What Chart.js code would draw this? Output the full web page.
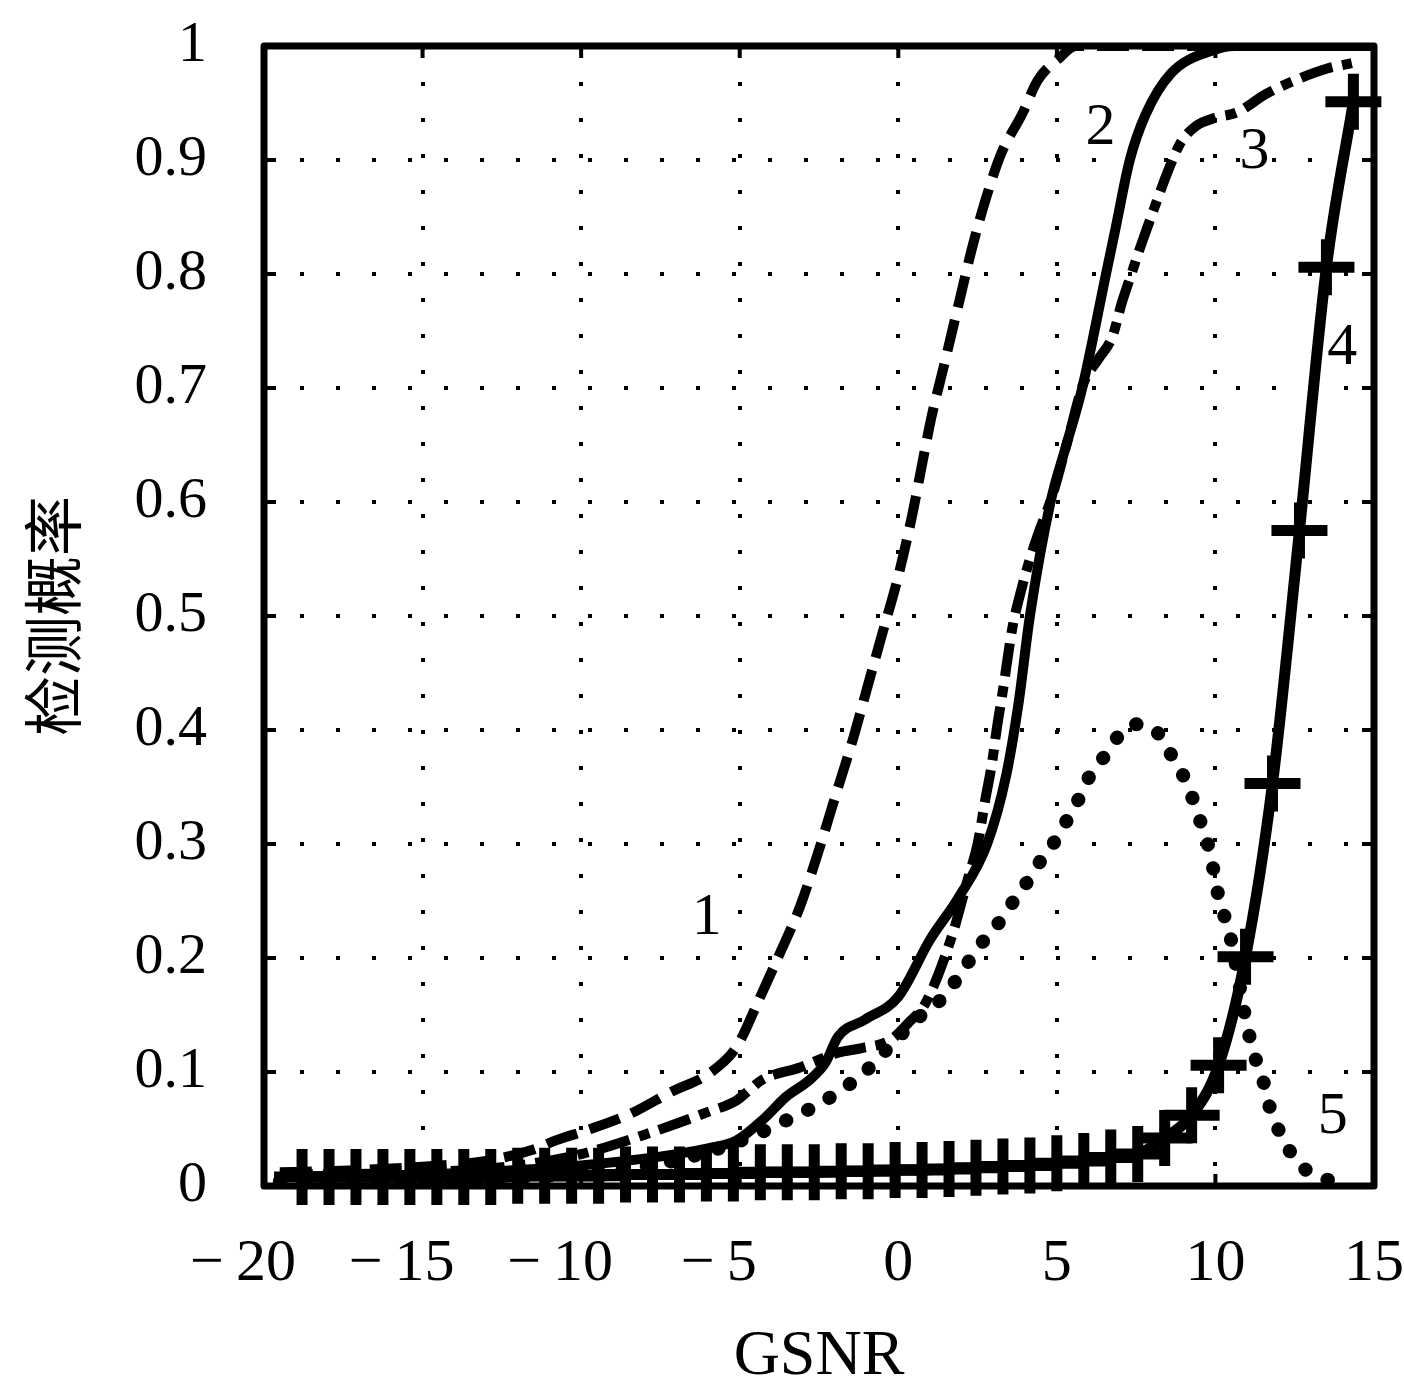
<!DOCTYPE html>
<html>
<head>
<meta charset="utf-8">
<script src="https://cdn.jsdelivr.net/npm/chart.js@4.4.1/dist/chart.umd.min.js"></script>
<style>
html, body { margin: 0; padding: 0; background: #fff; }
#wrap { width: 1404px; height: 1389px; }
</style>
</head>
<body>
<div id="wrap"><canvas id="chart" width="1404" height="1389"></canvas></div>
<script>
// axis ticks
const xTickValues = [-20, -15, -10, -5, 0, 5, 10, 15];
const xTickLabels = ['−20', '−15', '−10', '−5', '0', '5', '10', '15'];
const yTickLabels = ['0', '0.1', '0.2', '0.3', '0.4', '0.5', '0.6', '0.7', '0.8', '0.9', '1'];

// curve 1 (dashed)
const c1X = [-19.5, -17, -15, -13, -11.5, -10.8, -9.7, -8.4, -7.2, -5.9, -5.1, -4.4, -3.8, -3.1, -2.5, -1.95, -1.45, -1.0, -0.5, 0, 0.45, 0.75, 1.05, 1.4, 1.7, 2.0, 2.3, 2.75, 3.25, 3.9, 4.4, 5.1, 5.6, 15];
const c1Y = [0.012, 0.014, 0.017, 0.022, 0.032, 0.04, 0.05, 0.064, 0.082, 0.1, 0.122, 0.163, 0.2, 0.245, 0.295, 0.345, 0.39, 0.435, 0.485, 0.535, 0.59, 0.633, 0.675, 0.715, 0.75, 0.785, 0.82, 0.865, 0.906, 0.94, 0.97, 0.99, 1.0, 1.0];

// curve 2 (solid)
const c2X = [-19.5, -15, -12, -10, -8, -7, -6, -5.1, -4.2, -3.55, -2.8, -2.3, -1.9, -1.05, 0, 1.0, 1.9, 2.8, 3.4, 3.8, 4.15, 4.8, 5.3, 5.8, 6.55, 6.85, 7.3, 7.8, 8.6, 9.9, 10.6, 15];
const c2Y = [0.008, 0.01, 0.014, 0.018, 0.024, 0.028, 0.033, 0.04, 0.06, 0.078, 0.093, 0.108, 0.131, 0.146, 0.166, 0.216, 0.253, 0.30, 0.36, 0.425, 0.5, 0.6, 0.65, 0.70, 0.8, 0.84, 0.9, 0.94, 0.976, 0.996, 1.0, 1.0];

// curve 3 (dash-dot)
const c3X = [-19.5, -15, -12, -10, -8, -6, -5.1, -4.7, -4.3, -3.1, -1.9, -1.15, -0.25, 0.35, 0.85, 1.7, 2.2, 2.5, 2.75, 2.95, 3.1, 3.3, 3.6, 3.85, 4.15, 4.45, 4.85, 5.35, 5.85, 6.3, 6.75, 7.05, 7.35, 7.65, 8.1, 8.5, 8.9, 9.4, 10.0, 10.7, 11.6, 12.7, 13.5, 14.3];
const c3Y = [0.01, 0.012, 0.018, 0.028, 0.045, 0.065, 0.075, 0.084, 0.093, 0.104, 0.117, 0.121, 0.128, 0.144, 0.16, 0.22, 0.27, 0.3, 0.34, 0.37, 0.40, 0.435, 0.49, 0.52, 0.55, 0.575, 0.605, 0.655, 0.705, 0.725, 0.745, 0.775, 0.80, 0.825, 0.86, 0.89, 0.915, 0.93, 0.937, 0.942, 0.958, 0.972, 0.98, 0.985];

// curve 4 (solid with + markers)
const c4X = [-18.8, -17.95, -17.1, -16.25, -15.4, -14.55, -13.7, -12.85, -12.0, -11.15, -10.3, -9.45, -8.6, -7.75, -6.9, -6.05, -5.2, -4.35, -3.5, -2.65, -1.8, -0.95, -0.1, 0.75, 1.6, 2.45, 3.3, 4.15, 5.0, 5.85, 6.7, 7.55, 8.4, 9.25, 10.1, 10.95, 11.8, 12.65, 13.5, 14.35];
const c4Y = [0.008, 0.008, 0.008, 0.008, 0.008, 0.008, 0.008, 0.008, 0.009, 0.009, 0.009, 0.009, 0.01, 0.01, 0.01, 0.011, 0.011, 0.012, 0.012, 0.012, 0.013, 0.013, 0.014, 0.014, 0.015, 0.016, 0.017, 0.018, 0.02, 0.022, 0.025, 0.028, 0.042, 0.062, 0.106, 0.201, 0.353, 0.575, 0.806, 0.951];

// curve 5 (dotted)
const c5X = [-19.5, -15, -12, -10, -8, -6, -4.5, -3.5, -2.9, -2.25, -1.6, -1.05, -0.6, 0, 0.5, 1.1, 1.6, 2.0, 2.45, 2.85, 3.35, 3.7, 4.15, 4.55, 4.95, 5.3, 5.7, 6.0, 6.45, 6.8, 7.45, 8.1, 8.45, 8.95, 9.2, 9.45, 9.85, 10.05, 10.3, 10.5, 10.9, 11.05, 11.25, 11.5, 11.65, 11.9, 12.2, 12.6, 13.15, 13.8, 14.2];
const c5Y = [0.004, 0.005, 0.008, 0.011, 0.017, 0.03, 0.045, 0.058, 0.066, 0.076, 0.088, 0.1, 0.113, 0.13, 0.145, 0.157, 0.172, 0.188, 0.206, 0.221, 0.237, 0.253, 0.27, 0.288, 0.303, 0.32, 0.34, 0.358, 0.375, 0.39, 0.405, 0.40, 0.385, 0.362, 0.346, 0.326, 0.29, 0.26, 0.235, 0.215, 0.154, 0.134, 0.113, 0.093, 0.075, 0.055, 0.038, 0.02, 0.01, 0.003, 0.0];

// curve number labels
const curveLabels = ['1', '2', '3', '4', '5'];
const curveLabelX = [-6.04, 6.38, 11.23, 14.0, 13.7];
const curveLabelY = [0.235, 0.928, 0.907, 0.735, 0.06];

const toPoints = (xs, ys) => xs.map((x, i) => ({ x: x, y: ys[i] }));

const serif = "'Liberation Serif', 'DejaVu Serif', serif";

function noPadding(scale) {
    scale.paddingLeft = 0;
    scale.paddingRight = 0;
    scale.paddingTop = 0;
    scale.paddingBottom = 0;
}

// box round the plot, inward ticks, and the curve numbers
const framePlugin = {
    id: 'frame',
    afterDatasetsDraw(chart) {
        const { ctx, chartArea, scales } = chart;
        const { left, top, right, bottom } = chartArea;
        const tick = 12;
        ctx.save();
        ctx.strokeStyle = '#000';
        ctx.lineWidth = 4;
        ctx.beginPath();
        xTickValues.forEach(v => {
            const px = scales.x.getPixelForValue(v);
            ctx.moveTo(px, bottom); ctx.lineTo(px, bottom - tick);
            ctx.moveTo(px, top); ctx.lineTo(px, top + tick);
        });
        yTickLabels.forEach((t, i) => {
            const py = scales.y.getPixelForValue(i / 10);
            ctx.moveTo(left, py); ctx.lineTo(left + tick, py);
            ctx.moveTo(right, py); ctx.lineTo(right - tick, py);
        });
        ctx.stroke();

        ctx.lineWidth = 7;
        ctx.lineJoin = 'round';
        ctx.strokeRect(left, top, right - left, bottom - top);

        ctx.fillStyle = '#000';
        ctx.font = '60px ' + serif;
        ctx.textAlign = 'center';
        ctx.textBaseline = 'middle';
        curveLabels.forEach((t, i) => {
            ctx.fillText(t, scales.x.getPixelForValue(curveLabelX[i]), scales.y.getPixelForValue(curveLabelY[i]));
        });
        ctx.restore();
    }
};

const baseLine = {
    borderColor: '#000',
    backgroundColor: '#000',
    pointRadius: 0,
    fill: false,
    cubicInterpolationMode: 'monotone',
    borderJoinStyle: 'round'
};

new Chart(document.getElementById('chart').getContext('2d'), {
    type: 'line',
    data: {
        datasets: [
            Object.assign({}, baseLine, {
                label: '4',
                data: toPoints(c4X, c4Y),
                borderWidth: 11,
                pointStyle: 'cross',
                pointRadius: 28,
                pointBorderWidth: 11,
                pointBorderColor: '#000',
                clip: false
            }),
            Object.assign({}, baseLine, {
                label: '2',
                data: toPoints(c2X, c2Y),
                borderWidth: 10
            }),
            Object.assign({}, baseLine, {
                label: '1',
                data: toPoints(c1X, c1Y),
                borderWidth: 10,
                borderDash: [32, 13],
                borderCapStyle: 'butt'
            }),
            Object.assign({}, baseLine, {
                label: '3',
                data: toPoints(c3X, c3Y),
                borderWidth: 10,
                borderDash: [33, 10, 11, 10],
                borderCapStyle: 'butt'
            }),
            Object.assign({}, baseLine, {
                label: '5',
                data: toPoints(c5X, c5Y),
                borderWidth: 14,
                borderDash: [0.5, 24],
                borderCapStyle: 'round'
            })
        ]
    },
    options: {
        responsive: false,
        animation: false,
        devicePixelRatio: 1,
        events: [],
        layout: { autoPadding: false, padding: { top: 46, right: 30, bottom: 0, left: 0 } },
        plugins: {
            legend: { display: false },
            tooltip: { enabled: false }
        },
        scales: {
            x: {
                type: 'linear',
                min: -20,
                max: 15,
                afterFit: (scale) => {
                    scale.height = 203;
                    noPadding(scale);
                },
                afterBuildTicks: (scale) => {
                    scale.ticks = xTickValues.map(v => ({ value: v }));
                },
                ticks: {
                    color: '#000',
                    font: { family: serif, size: 60 },
                    padding: 42,
                    maxRotation: 0,
                    autoSkip: false,
                    callback: (v) => {
                        const i = xTickValues.indexOf(v);
                        if (i < 0) return '';
                        const s = xTickLabels[i];
                        return s.startsWith('−') ? '−\u2009' + s.slice(1) + '\u2002\u2009' : s;
                    }
                },
                grid: { color: '#000', lineWidth: 4, drawTicks: false },
                border: { display: false, dash: [4, 32] },
                title: {
                    display: true,
                    text: 'GSNR',
                    color: '#000',
                    font: { family: serif, size: 64, lineHeight: 1 },
                    padding: { top: 0, bottom: 0 }
                }
            },
            y: {
                type: 'linear',
                min: 0,
                max: 1,
                afterFit: (scale) => {
                    scale.width = 264;
                    noPadding(scale);
                },
                ticks: {
                    stepSize: 0.1,
                    color: '#000',
                    font: { family: serif, size: 58 },
                    padding: 57,
                    callback: (v) => yTickLabels[Math.round(v * 10)]
                },
                grid: { color: '#000', lineWidth: 4, drawTicks: false },
                border: { display: false, dash: [4, 32] },
                title: {
                    display: true,
                    text: '检测概率',
                    color: '#000',
                    font: { family: "'Noto Sans CJK SC', sans-serif", size: 60, lineHeight: 1 },
                    padding: { top: 23, bottom: 0 }
                }
            }
        }
    },
    plugins: [framePlugin]
});
</script>
</body>
</html>
